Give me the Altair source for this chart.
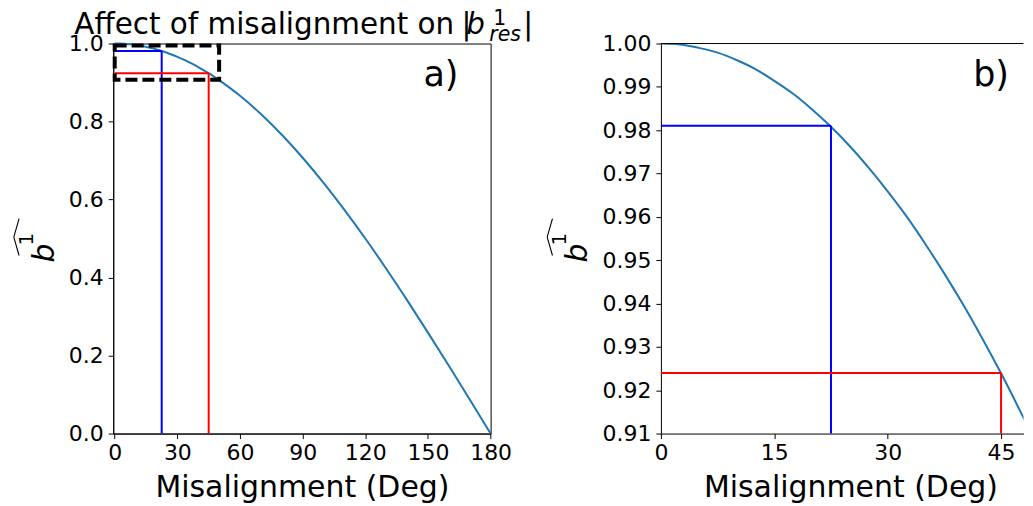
import altair as alt
import pandas as pd

# ---- data ----
angle_deg = [0, 2.5, 5, 7.5, 10, 12.5, 15, 17.5, 20, 22.5, 25, 27.5, 30, 32.5, 35,
             37.5, 40, 42.5, 45, 47.5, 50, 60, 70, 80, 90, 100, 110, 120, 130,
             140, 150, 160, 170, 180]
b_hat = [1.0000, 0.9998, 0.9990, 0.9979, 0.9962, 0.9941, 0.9914, 0.9884, 0.9848,
         0.9808, 0.9763, 0.9713, 0.9659, 0.9601, 0.9537, 0.9469, 0.9397, 0.9320,
         0.9239, 0.9153, 0.9063, 0.8660, 0.8192, 0.7660, 0.7071, 0.6428, 0.5736,
         0.5000, 0.4226, 0.3420, 0.2588, 0.1737, 0.0872, 0.0000]

marker_angle = [22.5, 45.0]
marker_value = [0.981, 0.924]
marker_color = ["#0000ff", "#ff0000"]

zoom_box_angle = [0, 50]
zoom_box_value = [0.907, 0.995]

left_x_ticks = [0, 30, 60, 90, 120, 150, 180]
left_y_ticks = [0.0, 0.2, 0.4, 0.6, 0.8, 1.0]
right_x_ticks = [0, 15, 30, 45]
right_y_ticks = [0.91, 0.92, 0.93, 0.94, 0.95, 0.96, 0.97, 0.98, 0.99, 1.00]

FONT = "DejaVu Sans"
CURVE = "#1f77b4"
LW, LH = 378.3, 391
RW, RH = 363.5, 391
R_XMAX = 47.97

curve_df = pd.DataFrame({"angle": angle_deg, "b": b_hat})
box_df = pd.DataFrame({"angle": [zoom_box_angle[0]], "angle2": [zoom_box_angle[1]],
                       "b": [zoom_box_value[0]], "b2": [zoom_box_value[1]]})


def txt(s, x, y, size, italic=False, angle=0):
    kw = dict(font=FONT, fontSize=size, align="left", baseline="alphabetic", color="black")
    if italic:
        kw["fontStyle"] = "italic"
    if angle:
        kw["angle"] = angle
    return alt.Chart(pd.DataFrame({"t": [s]})).mark_text(**kw).encode(
        text="t:N", x=alt.value(x), y=alt.value(y))


def seg(x1, y1, x2, y2):
    return alt.Chart(pd.DataFrame({"t": [0]})).mark_rule(color="black", strokeWidth=1.1).encode(
        x=alt.value(x1), y=alt.value(y1), x2=alt.value(x2), y2=alt.value(y2))


def ylabel(bx, ox, hx):
    # rotated  b-hat superscript 1
    return [
        txt("b", bx, 219.5, 30, italic=True, angle=270),
        txt("1", ox, 202.5, 20, angle=270),
        seg(hx, 194, hx + 5.3, 175.5),
        seg(hx, 194, hx + 5.3, 212.5),
    ]


def panel(xscale, yscale, xaxis, yaxis, ybase, clip):
    X = lambda f: alt.X(f"{f}:Q", scale=xscale, axis=xaxis)
    Y = lambda f: alt.Y(f"{f}:Q", scale=yscale, axis=yaxis)
    layers = [alt.Chart(curve_df).mark_line(color=CURVE, strokeWidth=2, interpolate="monotone",
                                           clip=clip).encode(x=X("angle"), y=Y("b"))]
    for a, v, c in zip(marker_angle, marker_value, marker_color):
        d = pd.DataFrame({"angle": [a], "b": [v]})
        layers.append(alt.Chart(d).mark_rule(color=c, strokeWidth=2).encode(
            x=X("angle"), y=Y("b"), y2=alt.datum(ybase)))
        layers.append(alt.Chart(d).mark_rule(color=c, strokeWidth=2).encode(
            x=X("angle"), x2=alt.datum(0), y=Y("b")))
    return layers


left_layers = panel(
    alt.Scale(domain=[-0.7, 180], nice=False, zero=False),
    alt.Scale(domain=[0, 1], nice=False, zero=False),
    alt.Axis(values=left_x_ticks, format="d", title="Misalignment (Deg)", labelPadding=4,
             titlePadding=9),
    alt.Axis(values=left_y_ticks, format=".1f", title=None, labelPadding=5),
    0, False)
left_layers.append(
    alt.Chart(box_df).mark_rect(fill="transparent", stroke="black", strokeWidth=4,
                                strokeDash=[12, 5]).encode(
        x="angle:Q", x2="angle2:Q", y="b:Q", y2="b2:Q"))
left_layers += [
    txt("a)", 311, 42.5, 35),
    txt("Affect of misalignment on", -39, -9.5, 29.5),
    txt("|", 349, -9.5, 29.5),
    txt("b", 354, -9.5, 29.5, italic=True),
    txt("1", 381, -18.5, 20.5),
    txt("res", 377, -2.5, 20.5, italic=True),
    txt("|", 411, -9.5, 29.5),
]
left_layers += ylabel(-59.7, -80.7, -99.7)

right_layers = panel(
    alt.Scale(domain=[0, R_XMAX], nice=False, zero=False),
    alt.Scale(domain=[0.91, 1.0], nice=False, zero=False),
    alt.Axis(values=right_x_ticks, format="d", title="Misalignment (Deg)", labelPadding=4,
             titlePadding=9, titleX=190),
    alt.Axis(values=right_y_ticks, format=".2f", title=None, labelPadding=5),
    0.91, True)
right_layers.append(
    alt.Chart(pd.DataFrame({"t": [0]})).mark_rule(color="black", strokeWidth=1).encode(
        x=alt.value(0), x2=alt.value(RW), y=alt.value(0)))
right_layers.append(txt("b)", 313, 43, 35))
right_layers += ylabel(-74, -95, -114)

left = alt.layer(*left_layers).properties(
    width=LW, height=LH, view=alt.ViewBackground(stroke="black", strokeWidth=1))
right = alt.layer(*right_layers).properties(
    width=RW, height=RH, view=alt.ViewBackground(stroke="transparent"))

chart = alt.hconcat(left, right, spacing=170, bounds="flush").properties(
    padding={"left": 4.5, "top": 0, "right": 0, "bottom": 0}
).configure_axis(
    labelFont=FONT, labelFontSize=22, labelColor="black", labelOverlap=False, labelFlush=False,
    titleFont=FONT, titleFontSize=30, titleFontWeight="normal", titleColor="black",
    tickColor="black", tickSize=5, tickWidth=1, domainColor="black", domainWidth=1,
    grid=False,
).configure_view(stroke="transparent")

chart.save("out.html", embed_options={"renderer": "svg", "actions": False})
